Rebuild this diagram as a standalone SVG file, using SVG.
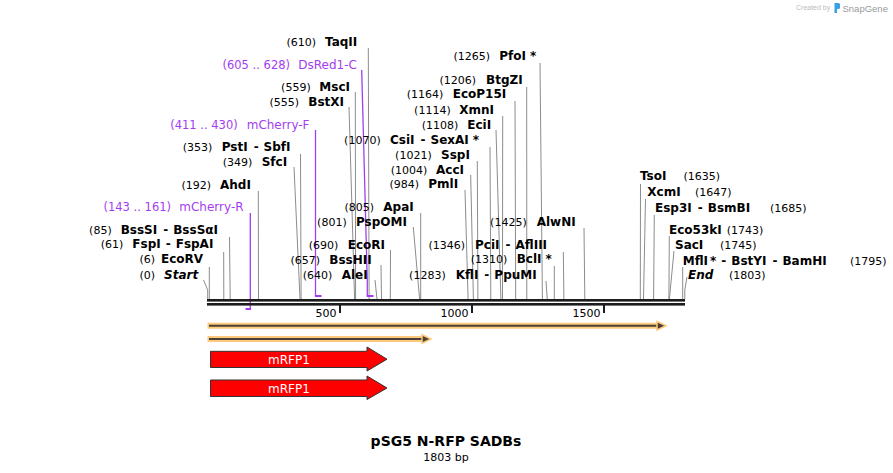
<svg xmlns="http://www.w3.org/2000/svg" width="893" height="473" viewBox="0 0 893 473">
<style>
text{font-family:"DejaVu Sans","Liberation Sans",sans-serif}
.n{font-size:11px;fill:#000;text-anchor:end}
.r{font-size:11px;fill:#000}
.b{font-size:12px;font-weight:bold;fill:#000}
.bi{font-size:12px;font-weight:bold;font-style:italic;fill:#000}
.pn{font-size:11.5px;fill:#a33df0;text-anchor:end}
.p{font-size:12px;fill:#a33df0}
.ln{stroke:#8c8c8c;stroke-width:1;fill:none}
.pl{stroke:#a33df0;stroke-width:1.3;fill:none}
.pm{stroke:#a33df0;stroke-width:2;fill:none}
.tk{font-size:11px;fill:#000;text-anchor:end}
.feat{fill:#ff0000;stroke:#333;stroke-width:1}
.ft{font-size:12px;fill:#fff;text-anchor:middle}
</style>
<rect width="893" height="473" fill="#fff"/>

<g id="logo">
<text x="796" y="10" style="font-family:'Liberation Sans',sans-serif;font-size:7px;fill:#bcbcbc">Created by</text>
<path d="M834.5,3 h4 q1.5,0 1.5,1.5 v3 q0,1.5 -1.5,1.5 h-1.5 v4 h-2.5 z" fill="#3aa0e6"/>
<text x="842.5" y="11.5" style="font-family:'Liberation Sans',sans-serif;font-size:9.5px;fill:#9a9a9a">SnapGene</text>
</g>

<g id="connectors">
<polyline class="ln" points="203.5,280 207.7,290 207.7,299"/>
<line class="ln" x1="209.3" y1="267" x2="209.3" y2="299"/>
<line class="ln" x1="223.7" y1="252" x2="223.8" y2="299"/>
<line class="ln" x1="229.5" y1="237" x2="230.2" y2="299"/>
<line class="ln" x1="258.3" y1="191" x2="258.5" y2="299"/>
<line class="ln" x1="294" y1="167" x2="300" y2="299"/>
<line class="ln" x1="300.5" y1="154" x2="301.1" y2="299"/>
<line class="ln" x1="349" y1="107" x2="354.6" y2="299"/>
<line class="ln" x1="355.3" y1="92" x2="355.6" y2="299"/>
<line class="ln" x1="368.3" y1="48" x2="369.1" y2="299"/>
<line class="ln" x1="375" y1="280" x2="377" y2="299"/>
<line class="ln" x1="381" y1="265" x2="381.5" y2="299"/>
<line class="ln" x1="390.5" y1="250" x2="390.3" y2="299"/>
<line class="ln" x1="413.3" y1="227" x2="419.6" y2="299"/>
<line class="ln" x1="420.7" y1="213" x2="420.7" y2="299"/>
<line class="ln" x1="465" y1="190" x2="468.1" y2="299"/>
<line class="ln" x1="470.7" y1="175" x2="473.4" y2="299"/>
<line class="ln" x1="477.3" y1="161" x2="477.9" y2="299"/>
<line class="ln" x1="490" y1="147" x2="490.8" y2="299"/>
<line class="ln" x1="496" y1="130" x2="500.9" y2="299"/>
<line class="ln" x1="502.7" y1="116" x2="502.5" y2="299"/>
<line class="ln" x1="515" y1="101" x2="515.7" y2="299"/>
<line class="ln" x1="526.7" y1="87" x2="526.8" y2="299"/>
<line class="ln" x1="540" y1="63" x2="542.4" y2="299"/>
<line class="ln" x1="546" y1="281" x2="547.2" y2="299"/>
<line class="ln" x1="554.3" y1="266" x2="554.3" y2="299"/>
<line class="ln" x1="563.3" y1="252" x2="563.9" y2="299"/>
<line class="ln" x1="584" y1="228" x2="584.8" y2="299"/>
<line class="ln" x1="640.5" y1="184" x2="640.3" y2="299"/>
<line class="ln" x1="645.5" y1="199" x2="643.5" y2="299"/>
<line class="ln" x1="654.3" y1="215" x2="653.6" y2="299"/>
<line class="ln" x1="669.3" y1="236" x2="668.9" y2="299"/>
<line class="ln" x1="674" y1="251" x2="669.4" y2="299"/>
<line class="ln" x1="682.7" y1="267" x2="682.7" y2="299"/>
<polyline class="ln" points="687,277 684.8,290 684.8,299"/>
<line class="pl" x1="250.3" y1="213" x2="250.3" y2="309"/>
<line class="pm" x1="245.5" y1="309" x2="251" y2="309"/>
<line class="pl" x1="315.5" y1="130" x2="315.5" y2="296"/>
<line class="pm" x1="314.9" y1="296" x2="321.5" y2="296"/>
<polyline class="pl" points="361.7,70 367.3,282 367.3,296"/>
<line class="pm" x1="366.7" y1="296" x2="373.5" y2="296"/>
</g>

<g id="axis">
<rect x="207" y="299" width="478" height="2.6" fill="#1c1c1c"/>
<rect x="207" y="303" width="478" height="2.6" fill="#1c1c1c"/>
<rect x="339" y="305" width="2" height="8" fill="#1c1c1c"/>
<rect x="471" y="305" width="2" height="8" fill="#1c1c1c"/>
<rect x="603" y="305" width="2" height="8" fill="#1c1c1c"/>
<text class="tk" x="336.5" y="316.5">500</text>
<text class="tk" x="468.5" y="316.5">1000</text>
<text class="tk" x="600.5" y="316.5">1500</text>
</g>

<g id="feature-line-1">
<line x1="207.5" y1="325.8" x2="660" y2="325.8" stroke="#fdc97c" stroke-width="6"/>
<line x1="209" y1="325.8" x2="660" y2="325.8" stroke="#4a4036" stroke-width="2"/>
<polygon points="657,321.5 666,325.8 657,330" fill="#4a4036" stroke="#fdc97c" stroke-width="1.5"/>
</g>
<g id="feature-line-2">
<line x1="207.5" y1="339" x2="425" y2="339" stroke="#fdc97c" stroke-width="6"/>
<line x1="209" y1="339" x2="425" y2="339" stroke="#4a4036" stroke-width="2"/>
<polygon points="422,334.7 431,339 422,343.2" fill="#4a4036" stroke="#fdc97c" stroke-width="1.5"/>
</g>

<g id="mRFP1-a">
<polygon class="feat" points="210.5,351.3 367,351.3 367,347 387,359.2 367,371 367,367.5 210.5,367.5"/>
<text class="ft" x="289" y="363.5">mRFP1</text>
</g>
<g id="mRFP1-b">
<polygon class="feat" points="210.5,380 367,380 367,376 387,388 367,399.5 367,396.5 210.5,396.5"/>
<text class="ft" x="289" y="392.5">mRFP1</text>
</g>

<g id="TaqII"><text class="n" x="316" y="46.3">(610)</text><text class="b" x="325" y="46.3">TaqII</text></g>
<g id="DsRed1-C"><text class="pn" x="290" y="69">(605 .. 628)</text><text class="p" x="298.3" y="69">DsRed1-C</text></g>
<g id="MscI"><text class="n" x="310.7" y="90.7">(559)</text><text class="b" x="319.3" y="90.7">MscI</text></g>
<g id="BstXI"><text class="n" x="299" y="105.7">(555)</text><text class="b" x="308.3" y="105.7">BstXI</text></g>
<g id="mCherry-F"><text class="pn" x="237.7" y="129">(411 .. 430)</text><text class="p" x="246.7" y="129">mCherry-F</text></g>
<g id="PstI"><text class="n" x="212.3" y="150.7">(353)</text><text class="b" x="221.7" y="150.7">PstI<tspan dx="6">-</tspan><tspan dx="5">SbfI</tspan></text></g>
<g id="SfcI"><text class="n" x="252.3" y="165.7">(349)</text><text class="b" x="261.7" y="165.7">SfcI</text></g>
<g id="AhdI"><text class="n" x="211" y="189">(192)</text><text class="b" x="220" y="189">AhdI</text></g>
<g id="mCherry-R"><text class="pn" x="171" y="210.7">(143 .. 161)</text><text class="p" x="179.3" y="210.7">mCherry-R</text></g>
<g id="BssSI"><text class="n" x="111.7" y="234">(85)</text><text class="b" x="120.7" y="234">BssSI<tspan dx="6">-</tspan><tspan dx="5">BssSαI</tspan></text></g>
<g id="FspI"><text class="n" x="123.3" y="248">(61)</text><text class="b" x="132.3" y="248">FspI<tspan dx="5">-</tspan><tspan dx="5">FspAI</tspan></text></g>
<g id="EcoRV"><text class="n" x="155" y="263.3">(6)</text><text class="b" x="161" y="263.3">EcoRV</text></g>
<g id="Start"><text class="n" x="155" y="278.7">(0)</text><text class="bi" x="164" y="278.7">Start</text></g>

<g id="PfoI"><text class="n" x="490" y="59.7">(1265)</text><text class="b" x="499.3" y="59.7">PfoI<tspan dx="4">*</tspan></text></g>
<g id="BtgZI"><text class="n" x="476" y="84">(1206)</text><text class="b" x="486" y="84">BtgZI</text></g>
<g id="EcoP15I"><text class="n" x="443.3" y="98.3">(1164)</text><text class="b" x="452.7" y="98.3">EcoP15I</text></g>
<g id="XmnI"><text class="n" x="450.7" y="114">(1114)</text><text class="b" x="459.3" y="114">XmnI</text></g>
<g id="EciI"><text class="n" x="458.3" y="129">(1108)</text><text class="b" x="467.3" y="129">EciI</text></g>
<g id="CsiI"><text class="n" x="380.7" y="144">(1070)</text><text class="b" x="390" y="144">CsiI<tspan dx="6">-</tspan><tspan dx="5">SexAI</tspan><tspan dx="4">*</tspan></text></g>
<g id="SspI"><text class="n" x="431.7" y="159">(1021)</text><text class="b" x="441" y="159">SspI</text></g>
<g id="AccI"><text class="n" x="427.3" y="174">(1004)</text><text class="b" x="436" y="174">AccI</text></g>
<g id="PmlI"><text class="n" x="419" y="188">(984)</text><text class="b" x="428.3" y="188">PmlI</text></g>
<g id="ApaI"><text class="n" x="374" y="210.7">(805)</text><text class="b" x="383.3" y="210.7">ApaI</text></g>
<g id="PspOMI"><text class="n" x="346.7" y="225.7">(801)</text><text class="b" x="356" y="225.7">PspOMI</text></g>
<g id="EcoRI"><text class="n" x="338.3" y="249">(690)</text><text class="b" x="347.7" y="249">EcoRI</text></g>
<g id="BssHII"><text class="n" x="320" y="264">(657)</text><text class="b" x="329.3" y="264">BssHII</text></g>
<g id="AleI"><text class="n" x="332.3" y="278.5">(640)</text><text class="b" x="341.7" y="278.5">AleI</text></g>
<g id="AlwNI"><text class="n" x="526.7" y="225.7">(1425)</text><text class="b" x="536.7" y="225.7">AlwNI</text></g>
<g id="PciI"><text class="n" x="465" y="249">(1346)</text><text class="b" x="475" y="249">PciI<tspan dx="6">-</tspan><tspan dx="5">AflIII</tspan></text></g>
<g id="BclI"><text class="n" x="507.3" y="263.3">(1310)</text><text class="b" x="516.7" y="263.3">BclI<tspan dx="4">*</tspan></text></g>
<g id="KflI"><text class="n" x="445.7" y="279">(1283)</text><text class="b" x="455.7" y="279">KflI<tspan dx="6">-</tspan><tspan dx="5">PpuMI</tspan></text></g>

<g id="TsoI"><text class="b" x="640" y="180">TsoI</text><text class="r" x="683.5" y="180">(1635)</text></g>
<g id="XcmI"><text class="b" x="647.3" y="196.3">XcmI</text><text class="r" x="695" y="196.3">(1647)</text></g>
<g id="Esp3I"><text class="b" x="655" y="212.3">Esp3I<tspan dx="6">-</tspan><tspan dx="5">BsmBI</tspan></text><text class="r" x="770" y="212.3">(1685)</text></g>
<g id="Eco53kI"><text class="b" x="669" y="234">Eco53kI</text><text class="r" x="726.7" y="234">(1743)</text></g>
<g id="SacI"><text class="b" x="675" y="249">SacI</text><text class="r" x="720" y="249">(1745)</text></g>
<g id="MflI"><text class="b" x="682.7" y="264.7">MflI<tspan dx="2">*</tspan><tspan dx="5">-</tspan><tspan dx="5">BstYI</tspan><tspan dx="6">-</tspan><tspan dx="5">BamHI</tspan></text><text class="r" x="850" y="264.7">(1795)</text></g>
<g id="End"><text class="bi" x="688" y="279">End</text><text class="r" x="729" y="279">(1803)</text></g>

<g id="title">
<text x="446" y="446" style="font-size:14px;font-weight:bold;text-anchor:middle">pSG5 N-RFP SADBs</text>
<text x="446" y="461" style="font-size:11px;text-anchor:middle">1803 bp</text>
</g>
</svg>
